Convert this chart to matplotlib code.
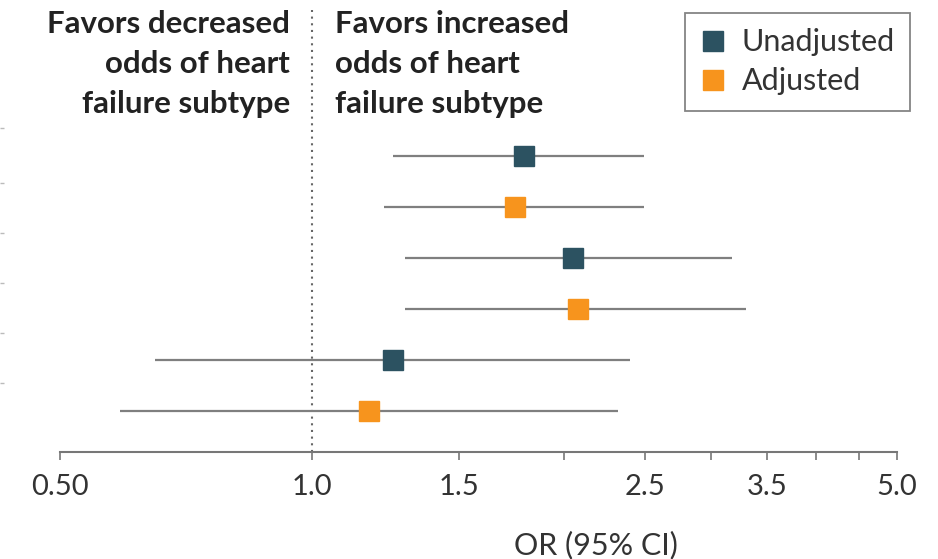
import matplotlib
matplotlib.use('Agg')
import matplotlib.pyplot as plt
from matplotlib.lines import Line2D

# odds ratios, top row first
groups = ['Unadjusted', 'Adjusted', 'Unadjusted', 'Adjusted', 'Unadjusted', 'Adjusted']
or_est = [1.79, 1.75, 2.05, 2.08, 1.25, 1.17]
ci_low = [1.25, 1.22, 1.29, 1.29, 0.65, 0.59]
ci_high = [2.49, 2.49, 3.18, 3.30, 2.40, 2.32]

major_ticks = [0.5, 1.0, 1.5, 2.5, 3.5, 5.0]
major_labels = ['0.50', '1.0', '1.5', '2.5', '3.5', '5.0']
minor_ticks = [2.0, 3.0, 4.0, 4.5]

colors = {'Unadjusted': '#2c5261', 'Adjusted': '#f7941d'}
txt = '#333333'

plt.rcParams['font.family'] = ['Lato', 'DejaVu Sans']

fig = plt.figure(figsize=(9.38, 5.59), dpi=100)
# axes starts at the left edge so the cut-off y ticks show there
ax = fig.add_axes([0, 107 / 559, 897 / 938, 452 / 559])

rows = list(range(len(groups)))
for i in rows:
    ax.plot([ci_low[i], ci_high[i]], [i, i], color='#7f7f7f', lw=1.6, zorder=2,
            solid_capstyle='butt')
    ax.plot(or_est[i], i, marker='s', ms=14.5, color=colors[groups[i]],
            mec=colors[groups[i]], zorder=3)

# null line, stops just below the top edge
ax.axvline(1.0, ymax=1 - 10 / 452, color='#666666', lw=1.5, ls=(0, (1, 2.2)), zorder=1)

ax.set_xscale('log')
ax.set_xlim(0.5 * 10 ** (-60 / 837), 5.0)
ax.set_ylim(5.8, -3.06)

ax.set_xticks(major_ticks)
ax.set_xticklabels(major_labels)
ax.set_xticks(minor_ticks, minor=True)
ax.xaxis.set_minor_formatter(plt.NullFormatter())
ax.tick_params(axis='x', which='both', length=6, width=1.2, color='#777777',
               labelsize=21, labelcolor=txt, pad=10)

ax.set_yticks([-0.55, 0.53, 1.51, 2.49, 3.47, 4.45])
ax.set_yticklabels([])
ax.tick_params(axis='y', length=3, width=1, color='#bbbbbb', direction='in')

for s in ['top', 'right', 'left']:
    ax.spines[s].set_visible(False)
ax.spines['bottom'].set_bounds(0.5, 5.0)
ax.spines['bottom'].set_color('#777777')
ax.spines['bottom'].set_linewidth(1.5)

# header text on each side of the null line (anchored at last baseline)
hdr_y = 1 - 113 / 559
fig.text(290 / 938, hdr_y, 'Favors decreased\nodds of heart\nfailure subtype',
         ha='right', va='baseline', fontsize=22.5, fontweight='bold', color='#222222',
         linespacing=1.52)
fig.text(335 / 938, hdr_y, 'Favors increased\nodds of heart\nfailure subtype',
         ha='left', va='baseline', fontsize=22.5, fontweight='bold', color='#222222',
         linespacing=1.52)

fig.text(596 / 938, 1 - 545 / 559, 'OR (95% CI)', ha='center', va='center',
         fontsize=22, color=txt)

handles = [Line2D([], [], ls='none', marker='s', ms=15, color=colors[k], mec=colors[k])
           for k in ['Unadjusted', 'Adjusted']]
leg = fig.legend(handles, ['Unadjusted', 'Adjusted'], loc='upper right',
                 bbox_to_anchor=(910 / 938, 1 - 13 / 559), borderaxespad=0,
                 frameon=True, fancybox=False,
                 fontsize=22, handlelength=0.85, handletextpad=0.5, labelspacing=0.36,
                 borderpad=0.5, labelcolor=txt)
leg.get_frame().set_edgecolor('#666666')
leg.get_frame().set_linewidth(1.3)

fig.savefig('out.png', dpi=100)
